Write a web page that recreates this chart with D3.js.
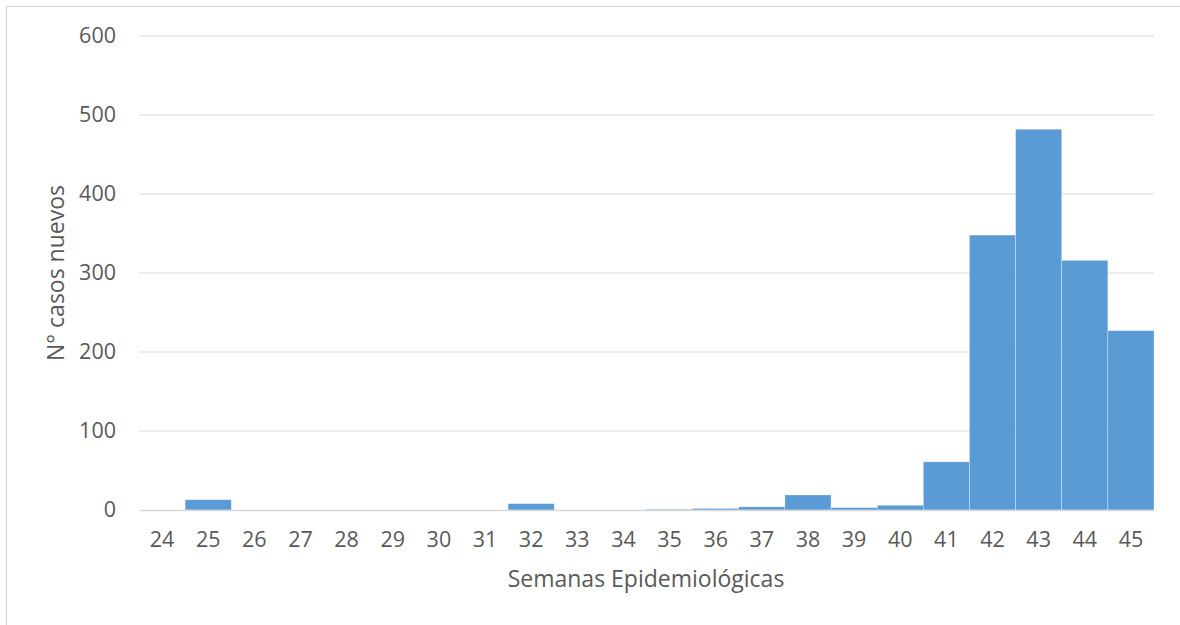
<!DOCTYPE html>
<html>
<head>
<meta charset="utf-8">
<script src="https://cdn.jsdelivr.net/npm/d3@7"></script>
<style>
  body { margin: 0; background: #fff; }
  text { font-family: "Open Sans", "Noto Sans", sans-serif; fill: #595959; }
</style>
</head>
<body>
<div id="plot"></div>
<script>
// data
var weeks = ["24","25","26","27","28","29","30","31","32","33","34","35","36","37","38","39","40","41","42","43","44","45"];
var cases = [0, 13, 0, 0, 0, 0, 0, 0, 8, 0, 0, 1, 2, 4, 19, 3, 6, 61, 348, 482, 316, 227];
var yTicks = [0, 100, 200, 300, 400, 500, 600];

var W = 1180, H = 625;
var margin = {top: 36, right: 26, bottom: 115, left: 139},
    width = W - margin.left - margin.right,
    height = H - margin.top - margin.bottom;

var root = d3.select("#plot").append("svg")
    .attr("width", W)
    .attr("height", H);

// chart frame (only top and left edges fall inside the picture)
root.append("rect")
    .attr("x", 6.5).attr("y", 6.5)
    .attr("width", W).attr("height", H)
    .attr("fill", "none")
    .attr("stroke", "#d9d9d9")
    .attr("stroke-width", 1.3);

var svg = root.append("g")
    .attr("transform", "translate(" + margin.left + "," + margin.top + ")");

var x = d3.scaleBand()
    .domain(weeks)
    .range([0, width])
    .padding(0);

var y = d3.scaleLinear()
    .domain([0, 600])
    .range([height, 0]);

// gridlines
svg.append("g")
    .selectAll("line")
    .data(yTicks.filter(function(d) { return d > 0; }))
    .enter()
    .append("line")
      .attr("x1", 0).attr("x2", width)
      .attr("y1", function(d) { return y(d); })
      .attr("y2", function(d) { return y(d); })
      .attr("stroke", "#d9d9d9")
      .attr("stroke-width", 1.2);

// bars
svg.append("g")
    .selectAll("rect")
    .data(cases)
    .enter()
    .append("rect")
      .attr("x", function(d, i) { return x(weeks[i]); })
      .attr("width", x.bandwidth())
      .attr("y", function(d) { return y(d); })
      .attr("height", function(d) { return height - y(d); })
      .attr("fill", "#5b9bd5")
      .attr("stroke", "#ffffff")
      .attr("stroke-opacity", 0.5)
      .attr("stroke-width", 0.6);

// y axis labels
var yAxis = svg.append("g")
    .call(d3.axisLeft(y).tickValues(yTicks).tickSize(0).tickPadding(23));
yAxis.select(".domain").remove();
yAxis.selectAll("text")
    .style("font-size", "21.5px")
    .attr("fill", "#595959");

// x axis
var xAxis = svg.append("g")
    .attr("transform", "translate(0," + height + ")")
    .call(d3.axisBottom(x).tickSize(0).tickPadding(22));
xAxis.select(".domain")
    .attr("stroke", "#d9d9d9")
    .attr("stroke-width", 1.5);
xAxis.selectAll("text")
    .style("font-size", "21.5px")
    .attr("fill", "#595959");

// axis titles
svg.append("text")
    .attr("text-anchor", "middle")
    .attr("transform", "rotate(-90)")
    .attr("x", -(273 - margin.top))
    .attr("y", -(margin.left - 64))
    .style("font-size", "23px")
    .text("N° casos nuevos");

svg.append("text")
    .attr("text-anchor", "middle")
    .attr("x", 646 - margin.left)
    .attr("y", 587 - margin.top)
    .style("font-size", "23px")
    .text("Semanas Epidemiológicas");
</script>
</body>
</html>
